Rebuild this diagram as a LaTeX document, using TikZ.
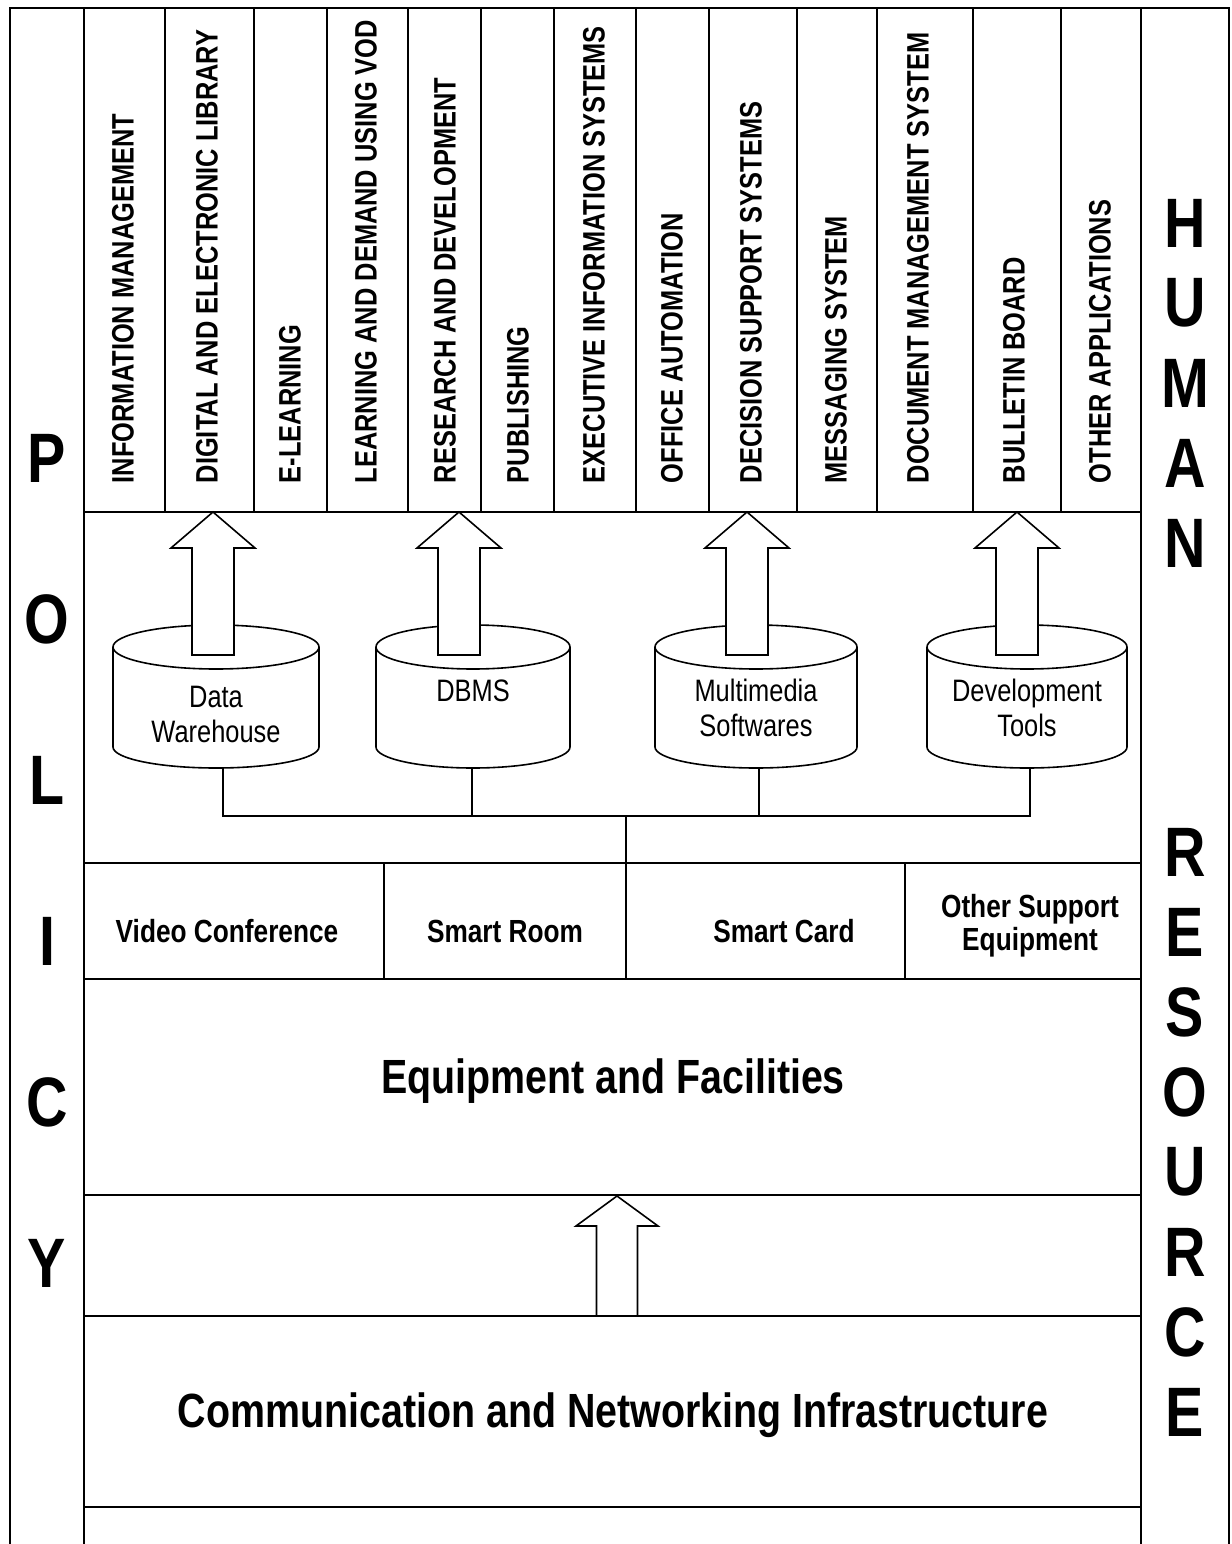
\documentclass[tikz,border=0pt]{standalone}
\usepackage{fontspec}
\setmainfont{Liberation Sans}[FakeStretch=0.82]
\begin{document}
\begin{tikzpicture}[x=1pt, y=-1pt, line width=1.6pt,
	apptext/.style={rotate=90, anchor=west, inner sep=0pt, font=\bfseries\fontsize{31}{36}\selectfont},
	sidetext/.style={inner sep=0pt, font=\bfseries\fontsize{70}{80}\selectfont},
	dbtext/.style={inner sep=0pt, align=center, font=\fontsize{31}{35}\selectfont},
	boxtext/.style={inner sep=0pt, align=center, font=\bfseries\fontsize{32}{33}\selectfont},
	bigtext/.style={inner sep=0pt, anchor=base, font=\bfseries\fontsize{48}{55}\selectfont},
	blockarrow/.style={fill=white, line join=miter}]
	\useasboundingbox (0,0) rectangle (1231,1544);

	%frame
	\draw (10,1544) -- (10,8) -- (1229,8) -- (1229,1544);
	\draw (84,8) -- (84,1544);
	\draw (1141,8) -- (1141,1544);
	\foreach \y in {512, 863, 979, 1195, 1316, 1507}{
		\draw (84,\y) -- (1141,\y);
	}
	\foreach \x in {165, 254, 327, 408, 481, 554, 636, 709, 797, 877, 973, 1061}{
		\draw (\x,8) -- (\x,512);
	}
	\foreach \x in {384, 626, 905}{
		\draw (\x,863) -- (\x,979);
	}

	%applications
	\foreach \x/\t [count=\i] in {123/INFORMATION MANAGEMENT, 207/DIGITAL AND ELECTRONIC LIBRARY,
		290/E-LEARNING, 366/LEARNING AND DEMAND USING VOD, 445/RESEARCH AND DEVELOPMENT,
		518/PUBLISHING, 594/EXECUTIVE INFORMATION SYSTEMS, 672/OFFICE AUTOMATION,
		751/DECISION SUPPORT SYSTEMS, 836/MESSAGING SYSTEM, 918/DOCUMENT MANAGEMENT SYSTEM,
		1014/BULLETIN BOARD, 1100/OTHER APPLICATIONS}{
		\node[apptext] (app\i) at (\x,484) {\t};
	}

	%policy and human resource
	\foreach \l [count=\i] in {P,O,L,I,C,Y}{
		\node[sidetext] (pol\i) at (47, 297+161*\i) {\l};
	}
	\foreach \l [count=\i] in {H,U,M,A,N}{
		\node[sidetext] (hum\i) at (1185, 143+80*\i) {\l};
	}
	\foreach \l [count=\i] in {R,E,S,O,U,R,C,E}{
		\node[sidetext] (res\i) at (1185, 772+80*\i) {\l};
	}

	%databases
	\foreach \cx/\rx in {216/103, 473/97, 756/101, 1027/100}{
		\draw[fill=white] (\cx-\rx,647) -- (\cx-\rx,747) arc[start angle=180, end angle=0, x radius=\rx, y radius=21] -- (\cx+\rx,647);
		\draw (\cx,647) ellipse [x radius=\rx, y radius=22];
	}
	\node[dbtext] (dw) at (216,714) {Data\\Warehouse};
	\node[dbtext] (dbms) at (473,691) {DBMS};
	\node[dbtext] (mm) at (756,708) {Multimedia\\Softwares};
	\node[dbtext] (dev) at (1027,708) {Development\\Tools};

	\foreach \x in {213, 459, 747, 1017}{
		\draw[blockarrow] (\x,512) -- ++(-42,36) -- ++(21,0) -- ++(0,107) -- ++(42,0) -- ++(0,-107) -- ++(21,0) -- cycle;
	}

	%bus
	\coordinate (dwb) at (223,768);
	\coordinate (dbmsb) at (472,768);
	\coordinate (mmb) at (759,768);
	\coordinate (devb) at (1030,768);
	\coordinate (bus) at (0,816);
	\coordinate (hub) at (626,816);
	\coordinate (rowtop) at (0,863);
	\draw (dwb) -- (dwb |- bus) -- (devb |- bus) -- (devb);
	\draw (dbmsb) -- (dbmsb |- bus);
	\draw (mmb) -- (mmb |- bus);
	\draw (hub) -- (hub |- rowtop);

	%support equipment
	\node[boxtext, anchor=base] (vc) at (227,942) {Video Conference};
	\node[boxtext, anchor=base] (sroom) at (505,942) {Smart Room};
	\node[boxtext, anchor=base] (scard) at (784,942) {Smart Card};
	\node[boxtext] (osup) at (1030,926) {Other Support\\Equipment};

	\node[bigtext] (equip) at (613,1093) {Equipment and Facilities};
	\draw[blockarrow] (617,1196) -- ++(-41,30) -- ++(20.5,0) -- ++(0,90) -- ++(41,0) -- ++(0,-90) -- ++(20.5,0) -- cycle;
	\node[bigtext] (comm) at (613,1427) {Communication and Networking Infrastructure};
\end{tikzpicture}
\end{document}
